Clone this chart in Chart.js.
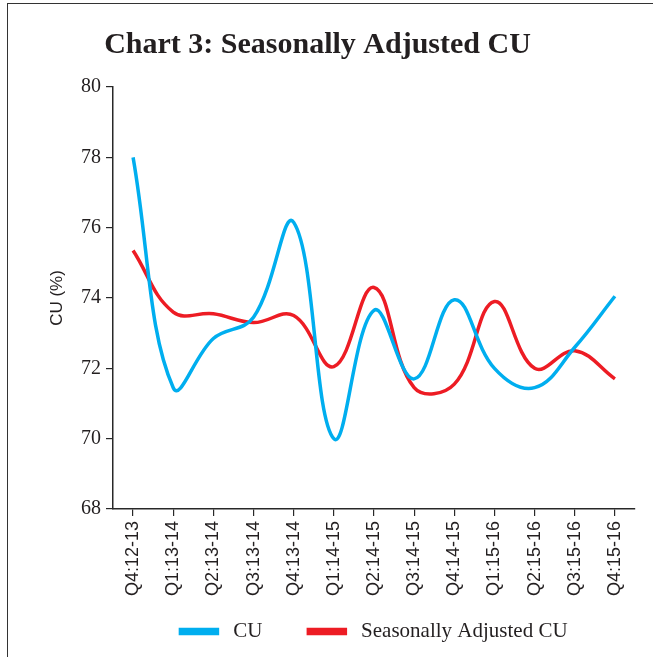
<!DOCTYPE html>
<html>
<head>
<meta charset="utf-8">
<script src="https://cdn.jsdelivr.net/npm/chart.js@4"></script>
<style>
    html, body { margin: 0; padding: 0; background: #fff; }
    #wrap { position: relative; width: 653px; height: 657px; overflow: hidden; }
    #frame { position: absolute; left: 7px; top: 3px; width: 700px; height: 700px;
             border-top: 1.5px solid #333; border-left: 1.5px solid #333; }
    canvas { position: absolute; left: 0; top: 0; }
</style>
</head>
<body>
<div id="wrap">
    <div id="frame"></div>
    <canvas id="cu-chart" width="653" height="657"></canvas>
</div>
<script>
// values
const quarters = ['Q4:12-13', 'Q1:13-14', 'Q2:13-14', 'Q3:13-14', 'Q4:13-14', 'Q1:14-15', 'Q2:14-15',
    'Q3:14-15', 'Q4:14-15', 'Q1:15-16', 'Q2:15-16', 'Q3:15-16', 'Q4:15-16'];
const cuValues = [78.0, 71.45, 72.85, 73.45, 76.15, 70.0, 73.65, 71.7, 73.95, 72.0, 71.45, 72.6, 74.05];
const seasonallyAdjusted = [75.35, 73.6, 73.55, 73.3, 73.5, 72.05, 74.3, 71.45, 71.55, 73.9, 72.0, 72.5, 71.7];
const yTicks = [68, 70, 72, 74, 76, 78, 80];

const chartColors = {
    blue: 'rgb(0, 174, 239)',
    red: 'rgb(237, 28, 36)',
    axis: 'rgb(40, 40, 40)',
    text: 'rgb(35, 31, 32)'
};

// the legend in the picture sits under the plot area, not under the whole canvas
const legendUnderPlot = {
    id: 'legendUnderPlot',
    afterLayout(chart) {
        const lg = chart.legend;
        const area = chart.chartArea;
        lg.left = area.left;
        lg.right = area.right;
        lg.width = area.right - area.left;
        lg.top = area.bottom + 66;
        lg.bottom = chart.height;
        lg.height = lg.bottom - lg.top;
    }
};

const ctx = document.getElementById('cu-chart').getContext('2d');

new Chart(ctx, {
    type: 'line',
    data: {
        labels: quarters,
        datasets: [{
            label: 'CU',
            data: cuValues,
            borderColor: chartColors.blue,
            backgroundColor: chartColors.blue,
            borderWidth: 3.5,
            tension: 0.4,
            pointRadius: 0
        }, {
            label: 'Seasonally Adjusted CU',
            data: seasonallyAdjusted,
            borderColor: chartColors.red,
            backgroundColor: chartColors.red,
            borderWidth: 3.5,
            tension: 0.4,
            pointRadius: 0
        }]
    },
    options: {
        responsive: false,
        animation: false,
        layout: { padding: { left: 0, right: 18, top: 0, bottom: 0 } },
        scales: {
            x: {
                offset: true,
                afterFit: scale => { scale.height = 108; },
                grid: { display: true, drawOnChartArea: false, drawTicks: true, tickLength: 7, color: chartColors.axis, lineWidth: 1.2 },
                border: { display: true, color: chartColors.axis, width: 1.5 },
                ticks: {
                    minRotation: 90, maxRotation: 90, autoSkip: false, padding: 5,
                    color: chartColors.text,
                    font: { family: 'Liberation Sans', size: 18 }
                }
            },
            y: {
                min: 68, max: 80,
                afterBuildTicks: scale => { scale.ticks = yTicks.map(v => ({ value: v })); },
                afterFit: scale => { scale.width = 113; },
                title: {
                    display: true, text: 'CU (%)', color: chartColors.text,
                    font: { family: 'Liberation Sans', size: 17 }, padding: { top: 47, bottom: 6 }
                },
                grid: { display: true, drawOnChartArea: false, drawTicks: true, tickLength: 7, color: chartColors.axis, lineWidth: 1.2 },
                border: { display: true, color: chartColors.axis, width: 1.5 },
                ticks: {
                    padding: 5, color: chartColors.text,
                    font: { family: 'Liberation Serif', size: 20 }
                }
            }
        },
        plugins: {
            title: {
                display: true,
                text: 'Chart 3: Seasonally Adjusted CU',
                color: chartColors.text,
                font: { family: 'Liberation Serif', size: 30, weight: 'bold' },
                padding: { top: 27, bottom: 24 }
            },
            legend: {
                position: 'bottom',
                maxHeight: 40,
                labels: {
                    boxWidth: 37, boxHeight: 4, padding: 46,
                    color: chartColors.text,
                    font: { family: 'Liberation Serif', size: 21 },
                    generateLabels: chart => Chart.defaults.plugins.legend.labels.generateLabels(chart)
                        .map(item => Object.assign(item, { text: ' ' + item.text }))
                }
            },
            tooltip: { enabled: false }
        }
    },
    plugins: [legendUnderPlot]
});
</script>
</body>
</html>
